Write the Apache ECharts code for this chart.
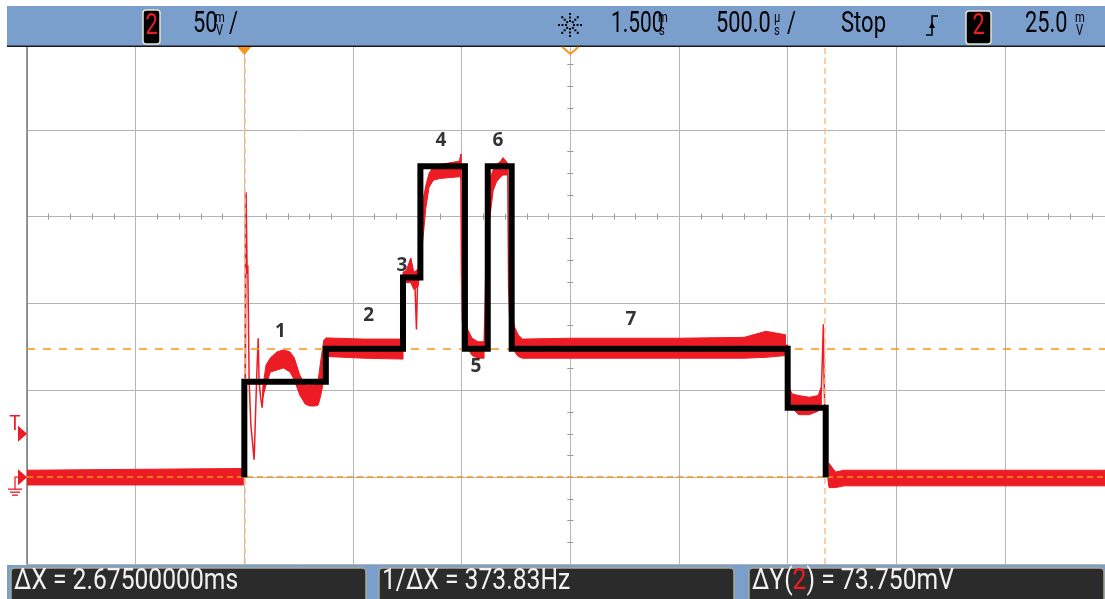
<!DOCTYPE html>
<html>
<head>
<meta charset="utf-8">
<script src="https://cdn.jsdelivr.net/npm/echarts@6/dist/echarts.min.js"></script>
<style>
  html, body { margin: 0; padding: 0; background: #fff; }
  #chart { width: 1105px; height: 599px; }
</style>
</head>
<body>
<div id="chart"></div>
<script>
const RED = "#ed1c24";
const ORANGE = "#f7941d";
const CURSOR_X = "#f8c08a";
const GRID = "#b4b4b4";
const BAR = "#7b9fcd";

// scope window: time in ms, voltage in mV (the right edge cuts the last division)
const timeMin = -1.0, timeMax = 3.96, timeDiv = 0.5;
const voltMin = -50, voltMax = 250, voltDiv = 50;
const delayMs = 1.5;
const centreV = 150;
const triggerV = 25.0;

// cursors
const cursorT = [0, 2.675];
const cursorV = [0, 73.75];

// black step outline drawn over the capture
const stepT = [0, 0, 0.375, 0.375, 0.73, 0.73, 0.81, 0.81, 1.015, 1.015, 1.12, 1.12, 1.23, 1.23, 2.5, 2.5, 2.675, 2.675];
const stepV = [0, 55, 55, 74, 74, 115, 115, 179, 179, 74, 74, 179, 179, 74, 74, 40, 40, 0];

// red capture, noisy band envelope (null splits the pieces)
const bandT  = [-1.0, -0.005, null,
  0.085, 0.1, 0.12, 0.15, 0.18, 0.21, 0.23, 0.255, 0.28, 0.3, 0.325, 0.34, 0.352, 0.366, 0.376, 0.55, 0.73, null,
  0.73, 0.745, 0.766, 0.78, 0.8, 0.81, 0.82, 0.835, 0.85, 0.87, 0.9, 0.99, 0.997, null,
  1.006, 1.024, 1.048, 1.075, 1.103, null,
  1.122, 1.13, 1.145, 1.16, 1.18, 1.19, 1.21, null,
  1.235, 1.245, 1.26, 1.28, 1.5, 2.0, 2.3, 2.4, 2.49, null,
  2.505, 2.52, 2.55, 2.6, 2.64, 2.655, null,
  2.69, 2.72, 2.76, 3.96];
const bandLo = [-4.5, -4.5, null,
  46, 53, 60.6, 61.7, 62.9, 60.6, 56, 47.3, 42.1, 41, 41, 41.5, 47.3, 56, 69.5, 68.5, 68, null,
  110, 112, 112, 108, 110, 120, 135, 155, 167, 171, 172, 173, 172, null,
  80, 75, 70, 68.5, 68.5, null,
  140, 150, 165, 170, 173, 174, 174, null,
  77, 72, 69.5, 68.5, 68.5, 68.5, 68.5, 69, 70, null,
  44, 40, 36, 36, 38, 42, null,
  -6, -6, -5, -5];
const bandHi = [4, 5, null,
  52, 64.6, 68.7, 72.1, 73.3, 72.1, 68.7, 58.8, 53.1, 53.1, 53.1, 56, 67.5, 79, 80.2, 79.5, 79.5, null,
  118, 119, 126, 118, 120, 140, 158, 168, 175, 179, 180, 182, 186, null,
  95, 86, 80, 78, 78, null,
  165, 172, 177, 180, 182, 184, 181, null,
  92, 86, 82, 79.5, 80, 80, 80.5, 84, 82, null,
  52, 48, 47, 46, 47, 52, null,
  8, 3, 4, 4];

// red capture, thin centre trace with the spikes
const traceT = [-1.0, -0.01, -0.004, 0.004, 0.008, 0.013, 0.016, 0.022, 0.03, 0.045, 0.05, 0.058, 0.064, 0.068, 0.075, 0.082, 0.09,
  0.12, 0.18, 0.23, 0.28, 0.33, 0.35, 0.37, 0.376, 0.73, 0.735, 0.766, 0.776, 0.785, 0.792, 0.797, 0.81, 0.83, 0.86,
  0.99, 0.996, 0.999, 1.003, 1.03, 1.103, 1.108, 1.115, 1.125, 1.15, 1.2, 1.212, 1.216, 1.222, 1.25,
  2.5, 2.503, 2.55, 2.64, 2.655, 2.66, 2.664, 2.667, 2.672, 2.68, 2.69, 2.72, 2.76, 3.96];
const traceV = [0, 0, 6, 20, 164, 117, 122, 56, 30, 10, 30, 62, 80, 55, 46, 40, 55,
  64, 66, 60, 48, 46, 58, 78, 75, 75, 112, 126, 115, 110, 85, 112, 130, 160, 175,
  177, 186, 120, 90, 80, 74, 100, 140, 160, 172, 178, 178, 110, 88, 78,
  76, 48, 42, 42, 50, 70, 88, 60, 30, 5, -5, -4, 0, 0];

// step numbers
const labelText = ["1", "2", "3", "4", "5", "6", "7"];
const labelT = [0.166, 0.572, 0.725, 0.905, 1.066, 1.167, 1.779];
const labelV = [84, 93, 121.6, 194, 63.6, 194, 90.5];

const gridBox = { left: 27, top: 43, width: 1078, height: 521 };

const bandPieces = [];
let piece = [];
bandT.forEach((t, i) => {
  if (t === null) { bandPieces.push(piece); piece = []; } else { piece.push(i); }
});
bandPieces.push(piece);

function pairs(xs, ys) {
  return xs.map((x, i) => [x, ys[i]]);
}

// centre cross with small ticks, done with extra hidden axes
const offTop = -(voltMax - centreV) / (voltMax - voltMin) * gridBox.height;
const offLeft = -(delayMs - timeMin) / (timeMax - timeMin) * gridBox.width;
function tickAxisX(inside) {
  return {
    type: "value", min: timeMin, max: timeMax, interval: timeDiv, position: "top", offset: offTop,
    axisLine: { show: false, onZero: false }, axisTick: { show: false, inside: inside },
    axisLabel: { show: false }, splitLine: { show: false },
    minorTick: { show: true, splitNumber: 5, length: 3, lineStyle: { color: "#9a9a9a" } }
  };
}
function tickAxisY(inside) {
  return {
    type: "value", min: voltMin, max: voltMax, interval: voltDiv, position: "left", offset: offLeft,
    axisLine: { show: false, onZero: false }, axisTick: { show: false, inside: inside },
    axisLabel: { show: false }, splitLine: { show: false },
    minorTick: { show: true, splitNumber: 4, length: 3, lineStyle: { color: "#9a9a9a" } }
  };
}

const chart = echarts.init(document.getElementById("chart"));
chart.setOption({
  animation: false,
  backgroundColor: "#fff",
  grid: { left: gridBox.left, top: gridBox.top, width: gridBox.width, height: gridBox.height, containLabel: false },
  xAxis: [
    {
      type: "value", min: timeMin, max: timeMax, interval: timeDiv,
      axisLine: { show: false }, axisTick: { show: false }, axisLabel: { show: false },
      splitLine: { show: true, lineStyle: { color: GRID, width: 1 } }
    },
    tickAxisX(false), tickAxisX(true)
  ],
  yAxis: [
    {
      type: "value", min: voltMin, max: voltMax, interval: voltDiv,
      axisLine: { show: true, onZero: false, lineStyle: { color: "#7a7a7a", width: 1.5 } },
      axisTick: { show: false }, axisLabel: { show: false },
      splitLine: { show: true, lineStyle: { color: GRID, width: 1 } }
    },
    tickAxisY(false), tickAxisY(true)
  ],
  series: [
    {
      type: "custom",
      z: 2,
      clip: true,
      data: bandPieces.map((p) => [bandT[p[0]], bandLo[p[0]]]),
      encode: { x: 0, y: 1 },
      renderItem(params, api) {
        const p = bandPieces[params.dataIndex];
        const upper = p.map((i) => api.coord([bandT[i], bandHi[i]]));
        const lower = p.map((i) => api.coord([bandT[i], bandLo[i]])).reverse();
        return {
          type: "polygon",
          shape: { points: upper.concat(lower) },
          style: { fill: RED, stroke: RED, lineWidth: 1 }
        };
      }
    },
    {
      type: "line",
      z: 3,
      data: pairs(traceT, traceV),
      symbol: "none",
      lineStyle: { color: RED, width: 1.5 }
    },
    {
      type: "line",
      z: 4,
      data: [],
      markLine: {
        silent: true,
        symbol: ["none", "none"],
        label: { show: false },
        data: cursorT.map((t) => ({ xAxis: t, lineStyle: { color: CURSOR_X, type: [6, 4], width: 1.5 } }))
          .concat(cursorV.map((v, i) => ({ yAxis: v, lineStyle: { color: ORANGE, type: i ? [8, 8] : [6, 4], width: 1.5 } })))
      }
    },
    {
      type: "line",
      z: 5,
      data: pairs(stepT, stepV),
      symbol: "none",
      lineStyle: { color: "#000", width: 6, join: "miter" }
    },
    {
      type: "scatter",
      z: 6,
      data: pairs(labelT, labelV),
      symbolSize: 1,
      itemStyle: { color: "transparent" },
      label: {
        show: true,
        position: "inside",
        formatter: (p) => labelText[p.dataIndex],
        color: "#000",
        fontFamily: "Noto Sans",
        fontWeight: "bold",
        fontSize: 19
      }
    }
  ]
});

// ---- scope frame: top and bottom bars, markers ----
function txt(text, x, y, size, sx, fill, align) {
  return {
    type: "text", x: x, y: y, scaleX: sx, z: 102,
    style: { text: text, font: size + "px Roboto", fill: fill || "#000", verticalAlign: "middle", align: align || "left" }
  };
}
function chBox(x, y, w, h) {
  return {
    type: "rect", z: 101, shape: { x: x, y: y, width: w, height: h, r: 3 },
    style: { fill: "#000", stroke: "#e4e4d0", lineWidth: 1.5 }
  };
}

const els = [];
// top bar
els.push({ type: "rect", z: 100, shape: { x: 7, y: 6, width: 1098, height: 40 }, style: { fill: BAR } });
els.push({ type: "rect", z: 100, shape: { x: 7, y: 45.5, width: 1098, height: 1.5 }, style: { fill: "#1a1a1a" } });
els.push(chBox(143, 10, 17, 34));
els.push(txt("2", 151.5, 27, 29, 0.75, RED, "center"));
els.push(txt("50", 193, 25, 29, 0.75));
els.push(txt("m", 215, 18, 14, 0.8));
els.push(txt("V", 216, 31, 14, 0.8));
els.push(txt("/", 229, 25, 29, 0.75));
// acquisition icon
for (let k = 0; k < 8; k++) {
  const a = k * Math.PI / 4;
  [4, 7.5, 11].forEach((r) => {
    els.push({ type: "rect", z: 102, shape: { x: 570 + r * Math.cos(a) - 1, y: 25 + r * Math.sin(a) - 1, width: 2, height: 2 }, style: { fill: "#000" } });
  });
}
els.push(txt("1.500", 611, 25, 29, 0.72));
els.push(txt("m", 658, 18, 14, 0.8));
els.push(txt("s", 659, 31, 14, 0.8));
els.push(txt("500.0", 716, 25, 29, 0.75));
els.push(txt("\u03bc", 774, 18, 14, 0.8));
els.push(txt("s", 774, 31, 14, 0.8));
els.push(txt("/", 787, 25, 29, 0.75));
els.push(txt("Stop", 841, 25, 29, 0.76));
els.push({ type: "polyline", z: 102, shape: { points: [[926, 35], [932, 35], [932, 16], [938, 16]] }, style: { stroke: "#000", lineWidth: 1.5, fill: null } });
els.push({ type: "polygon", z: 102, shape: { points: [[929, 28], [935, 28], [932, 22]] }, style: { fill: "#000" } });
els.push(chBox(966, 11, 25, 33));
els.push(txt("2", 978.5, 27, 29, 0.75, RED, "center"));
els.push(txt("25.0", 1025, 25, 29, 0.75));
els.push(txt("m", 1075, 18, 14, 0.8));
els.push(txt("V", 1076, 31, 14, 0.8));

// bottom bar with cursor readouts
const dX = cursorT[1] - cursorT[0];
const dY = cursorV[1] - cursorV[0];
els.push({ type: "rect", z: 100, shape: { x: 7, y: 565, width: 1098, height: 34 }, style: { fill: BAR } });
[11, 379, 749].forEach((bx) => {
  els.push({ type: "rect", z: 101, shape: { x: bx, y: 568, width: 355, height: 36, r: 4 }, style: { fill: "#2b2b2b", stroke: "#aaa993", lineWidth: 1.5 } });
});
els.push(txt("\u0394X = " + dX.toFixed(8) + "ms", 14, 582, 29, 0.85, "#f2f2f2"));
els.push(txt("1/\u0394X = " + (1000 / dX).toFixed(2) + "Hz", 382, 582, 29, 0.85, "#f2f2f2"));
els.push({
  type: "text", x: 752, y: 582, scaleX: 0.85, z: 102,
  style: {
    text: "{w|\u0394Y(}{r|2}{w|) = " + dY.toFixed(3) + "mV}",
    verticalAlign: "middle",
    rich: {
      w: { font: "29px Roboto", fill: "#f2f2f2" },
      r: { font: "29px Roboto", fill: RED }
    }
  }
});

// markers tied to the axes
const px = (t, v) => chart.convertToPixel({ seriesIndex: 0 }, [t, v]);
const trig = px(timeMin, triggerV);
const gnd = px(timeMin, 0);
const c1 = px(cursorT[0], voltMax);
const ref = px(delayMs, voltMax);
els.push({ type: "polygon", z: 102, shape: { points: [[trig[0] - 9, trig[1] - 8], [trig[0] - 9, trig[1] + 8], [trig[0], trig[1]]] }, style: { fill: RED } });
els.push(txt("T", trig[0] - 12, trig[1] - 9, 21, 0.9, RED, "center"));
els.push({ type: "polygon", z: 102, shape: { points: [[gnd[0] - 9, gnd[1] - 8], [gnd[0] - 9, gnd[1] + 8], [gnd[0], gnd[1]]] }, style: { fill: RED } });
els.push({ type: "polyline", z: 102, shape: { points: [[gnd[0] - 8, gnd[1]], [gnd[0] - 12, gnd[1]], [gnd[0] - 12, gnd[1] + 12]] }, style: { stroke: RED, lineWidth: 1.3, fill: null } });
[[7, 12], [5, 15], [3, 18]].forEach((b) => {
  els.push({ type: "line", z: 102, shape: { x1: gnd[0] - 12 - b[0], y1: gnd[1] + b[1], x2: gnd[0] - 12 + b[0], y2: gnd[1] + b[1] }, style: { stroke: RED, lineWidth: 1.3 } });
});
els.push({ type: "polygon", z: 102, shape: { points: [[c1[0] - 7, 47], [c1[0] + 7, 47], [c1[0], 55]] }, style: { fill: ORANGE } });
els.push({ type: "polyline", z: 102, shape: { points: [[ref[0] - 8, 47], [ref[0], 54], [ref[0] + 8, 47]] }, style: { stroke: ORANGE, lineWidth: 2, fill: null } });

chart.setOption({ graphic: { elements: els } });
</script>
</body>
</html>
